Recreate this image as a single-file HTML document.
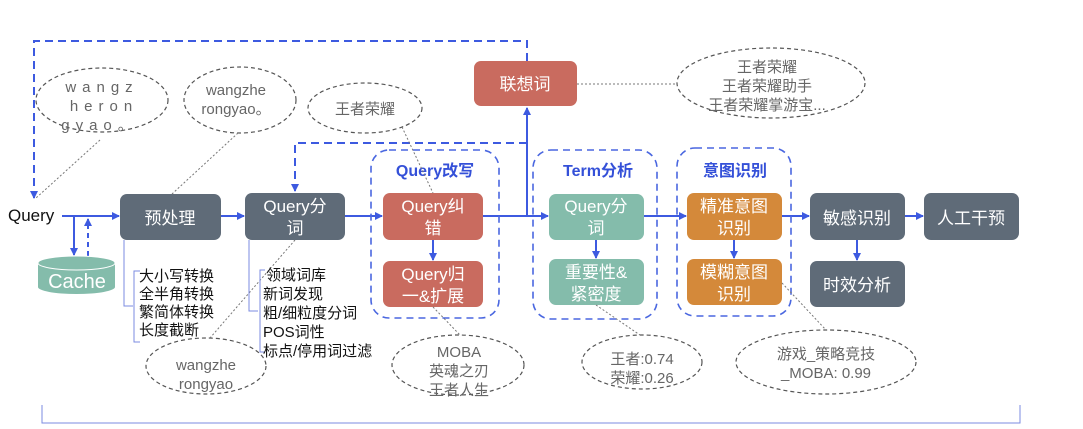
<!DOCTYPE html>
<html><head><meta charset="utf-8"><style>
body{margin:0;background:#fff}
svg{display:block;font-family:"Liberation Sans","Noto Sans CJK SC",sans-serif}
</style></head><body>
<svg width="1083" height="429" viewBox="0 0 1083 429" xmlns="http://www.w3.org/2000/svg">
<defs>
<marker id="a" markerWidth="8" markerHeight="8" refX="7" refY="4" orient="auto" markerUnits="userSpaceOnUse"><path d="M0,0 L8,4 L0,8 z" fill="#3d5ae0"/></marker>
</defs>
<g fill="none" stroke="#3d5ae0" stroke-width="2">
<path d="M527,61 V41 H34 V198" stroke-dasharray="8,5" marker-end="url(#a)"/>
<path d="M527,143 H295 V191" stroke-dasharray="8,5" marker-end="url(#a)"/>
<path d="M527,216 V108" marker-end="url(#a)"/>
<path d="M62,216 H119" marker-end="url(#a)"/>
<path d="M221,216 H244" marker-end="url(#a)"/>
<path d="M345,216 H382" marker-end="url(#a)"/>
<path d="M483,216 H548" marker-end="url(#a)"/>
<path d="M644,216 H686" marker-end="url(#a)"/>
<path d="M782,216 H809" marker-end="url(#a)"/>
<path d="M905,216 H923" marker-end="url(#a)"/>
<path d="M74,216 V255" marker-end="url(#a)"/>
<path d="M88,256 V219" stroke-dasharray="5,4" marker-end="url(#a)"/>
<path d="M433,240 V260" marker-end="url(#a)"/>
<path d="M596,240 V258" marker-end="url(#a)"/>
<path d="M734,240 V258" marker-end="url(#a)"/>
<path d="M857,240 V260" marker-end="url(#a)"/>
</g>
<g fill="none" stroke="#4a67e0" stroke-width="1.6" stroke-dasharray="7,5">
<rect x="371" y="150" width="128" height="168" rx="18"/>
<rect x="533" y="150" width="124" height="169" rx="18"/>
<rect x="677" y="148" width="114" height="168" rx="18"/>
</g>
<g font-weight="bold" font-size="16" fill="#3450d8" text-anchor="middle">
<text x="435" y="176">Query改写</text>
<text x="598" y="176">Term分析</text>
<text x="735" y="176">意图识别</text>
</g>
<g stroke="none">
<rect x="474" y="61" width="103" height="45" rx="7" fill="#c96b5f"/>
<rect x="120" y="194" width="101" height="46" rx="7" fill="#5f6b78"/>
<rect x="245" y="193" width="100" height="47" rx="7" fill="#5f6b78"/>
<rect x="383" y="193" width="100" height="47" rx="7" fill="#c96b5f"/>
<rect x="383" y="261" width="100" height="46" rx="7" fill="#c96b5f"/>
<rect x="549" y="194" width="95" height="46" rx="7" fill="#84bcab"/>
<rect x="549" y="259" width="95" height="46" rx="7" fill="#84bcab"/>
<rect x="687" y="193" width="95" height="47" rx="7" fill="#d4893a"/>
<rect x="687" y="259" width="95" height="46" rx="7" fill="#d4893a"/>
<rect x="810" y="193" width="95" height="47" rx="7" fill="#5f6b78"/>
<rect x="924" y="193" width="95" height="47" rx="7" fill="#5f6b78"/>
<rect x="810" y="261" width="95" height="46" rx="7" fill="#5f6b78"/>
</g>
<g font-size="17" fill="#fff" text-anchor="middle">
<text x="525" y="90">联想词</text>
<text x="170" y="224">预处理</text>
<text x="295" y="212">Query分</text><text x="295" y="234">词</text>
<text x="433" y="212">Query纠</text><text x="433" y="234">错</text>
<text x="433" y="280">Query归</text><text x="433" y="302">一&amp;扩展</text>
<text x="596" y="212">Query分</text><text x="596" y="234">词</text>
<text x="596" y="278">重要性&amp;</text><text x="596" y="300">紧密度</text>
<text x="734" y="212">精准意图</text><text x="734" y="234">识别</text>
<text x="734" y="278">模糊意图</text><text x="734" y="300">识别</text>
<text x="857" y="224">敏感识别</text>
<text x="971" y="224">人工干预</text>
<text x="857" y="291">时效分析</text>
</g>
<path d="M38,263 V287 A38.5,7 0 0 0 115,287 V263" fill="#84bcab"/>
<ellipse cx="76.5" cy="263" rx="38.5" ry="7" fill="#84bcab" stroke="#fff" stroke-width="1"/>
<text x="77" y="288" font-size="20" fill="#fff" text-anchor="middle">Cache</text>
<text x="8" y="221" font-size="17" fill="#111">Query</text>
<g fill="none" stroke="#555" stroke-width="1.2" stroke-dasharray="4,3">
<ellipse cx="102" cy="100" rx="66" ry="32"/>
<ellipse cx="240" cy="100" rx="56" ry="33"/>
<ellipse cx="365" cy="108" rx="57" ry="25"/>
<ellipse cx="206" cy="366" rx="60" ry="28"/>
<ellipse cx="458" cy="365" rx="66" ry="30"/>
<ellipse cx="642" cy="362" rx="60" ry="27"/>
<ellipse cx="826" cy="362" rx="90" ry="32"/>
<ellipse cx="771" cy="83" rx="94" ry="35"/>
</g>
<g stroke="#777" stroke-width="1" stroke-dasharray="2,2" fill="none">
<path d="M100,140 L36,198"/>
<path d="M238,133 L172,194"/>
<path d="M402,127 L433,193"/>
<path d="M295,240 L210,338"/>
<path d="M433,307 L460,335"/>
<path d="M596,305 L640,335"/>
<path d="M782,283 L826,330"/>
<path d="M577,84 L677,84"/>
</g>
<g font-size="15" fill="#666" text-anchor="middle">
<text x="102" y="92" letter-spacing="6">wangz</text>
<text x="104" y="111" letter-spacing="6">heron</text>
<text x="100" y="130" letter-spacing="6">gyao。</text>
<text x="236" y="95">wangzhe</text><text x="236" y="114">rongyao。</text>
<text x="365" y="114">王者荣耀</text>
<text x="206" y="370">wangzhe</text><text x="206" y="389">rongyao</text>
<text x="459" y="357">MOBA</text><text x="459" y="376">英魂之刃</text><text x="459" y="395">王者人生</text>
<text x="642" y="364">王者:0.74</text><text x="642" y="383">荣耀:0.26</text>
<text x="826" y="359">游戏_策略竞技</text><text x="826" y="378">_MOBA: 0.99</text>
<text x="767" y="72">王者荣耀</text><text x="767" y="91">王者荣耀助手</text><text x="767" y="110">王者荣耀掌游宝...</text>
</g>
<g fill="none" stroke="#7b8be0" stroke-width="1">
<path d="M124,240 V306 H133"/>
<path d="M140,271 H134 V342 H140"/>
<path d="M249,240 V311 H258"/>
<path d="M265,270 H260 V352 H265"/>
<path d="M42,405 V423 H1020 V405"/>
</g>
<g font-size="15" fill="#111">
<text x="139" y="281">大小写转换</text>
<text x="139" y="299">全半角转换</text>
<text x="139" y="317">繁简体转换</text>
<text x="139" y="335">长度截断</text>
<text x="266" y="280">领域词库</text>
<text x="263" y="299">新词发现</text>
<text x="263" y="318">粗/细粒度分词</text>
<text x="263" y="337">POS词性</text>
<text x="263" y="356">标点/停用词过滤</text>
</g>
</svg>
</body></html>
